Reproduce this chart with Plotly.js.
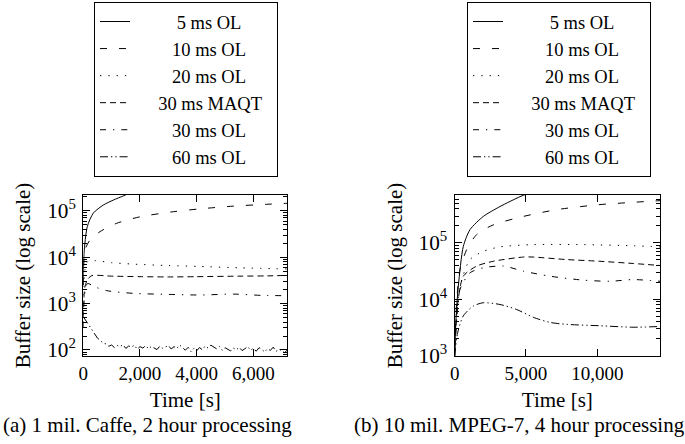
<!DOCTYPE html>
<html><head><meta charset="utf-8">
<script src="https://cdn.plot.ly/plotly-3.0.1.min.js"></script>
<style>html,body{margin:0;padding:0;background:#fff}</style>
</head><body><div id="chart" style="width:685px;height:444px"></div>
<script>
// ---------- Series names ----------
const seriesNames = ['5 ms OL', '10 ms OL', '20 ms OL', '30 ms MAQT', '30 ms OL', '60 ms OL'];
const legendPad = [9, 8, 8, 5, 8, 8];
const legendTrail = [0, 0, 0, 2, 0, 0];

// ---------- (a) 1 mil. Caffe, 2 hour processing ----------
const a_t5 = [0, 25, 141, 353, 706, 1059, 1412, 1600];
const a_v5 = [2500, 12000, 45700, 89000, 133000, 170000, 209000, 235000];
const a_t10 = [0, 60, 236, 589, 1177, 2000, 3177, 4118, 5294, 6471, 7200];
const a_v10 = [2500, 14300, 23400, 35500, 53700, 74100, 95500, 110000, 126000, 138000, 145000];
const a_t20 = [0, 60, 150, 412, 1000, 1765, 3000, 4118, 5500, 7200];
const a_v20 = [1500, 5500, 8000, 8400, 7600, 7080, 6600, 6300, 5900, 5560];
const a_t30m = [0, 50, 150, 300, 1000, 2000, 3000, 4000, 5500, 6500, 7200];
const a_v30m = [500, 2200, 3300, 4000, 3900, 3800, 3750, 3800, 3900, 3950, 4050];
const a_t30 = [0, 40, 150, 400, 825, 1765, 2941, 4118, 5294, 6300, 7200];
const a_v30 = [300, 1500, 2700, 2300, 1900, 1660, 1580, 1530, 1600, 1500, 1480];
const a_t60 = [0,100,200,300,400,500,600,700,800,900,1000,1100,1200,1300,1400,1500,1600,1700,1800,1900,
  2000,2100,2200,2300,2400,2500,2600,2700,2800,2900,3000,3100,3200,3300,3400,3500,3600,3700,3800,3900,
  4000,4100,4200,4300,4400,4500,4600,4700,4800,4900,5000,5100,5200,5300,5400,5500,5600,5700,5800,5900,
  6000,6100,6200,6300,6400,6500,6600,6700,6800,6900,7000,7100,7200];
const a_v60 = [520,420,330,270,215,180,160,140,135,120,128,112,125,118,130,108,122,115,127,104,
  118,110,124,106,119,112,102,121,109,116,125,105,118,108,128,112,99,114,92,108,
  96,113,101,122,110,127,115,106,119,98,112,104,95,109,101,114,97,106,118,99,
  108,94,112,102,91,106,98,115,93,104,97,88,100];

// ---------- (b) 10 mil. MPEG-7, 4 hour processing ----------
const b_t5 = [0, 100, 254, 605, 1073, 2007, 3177, 4579, 5200];
const b_v5 = [1260, 5000, 17200, 87100, 172000, 295000, 442000, 661000, 760000];
const b_t10 = [0, 150, 372, 840, 1543, 2707, 4811, 7150, 9958, 12525, 14400];
const b_v10 = [1260, 10000, 33900, 75900, 141000, 209000, 295000, 389000, 473000, 525000, 562000];
const b_t20 = [0, 200, 500, 1073, 2007, 3177, 5512, 9022, 12525, 14400];
const b_v20 = [1000, 7900, 22400, 50700, 70800, 85100, 93300, 93300, 89100, 85100];
const b_t30m = [0, 200, 605, 1543, 2707, 4811, 5512, 7854, 10189, 12525, 14400];
const b_v30m = [1000, 7900, 25700, 38900, 47300, 56200, 56200, 50700, 47300, 43200, 39800];
const b_t30 = [0, 150, 372, 1073, 2007, 3410, 4811, 6683, 9022, 10890, 12525, 14400];
const b_v30 = [1000, 5000, 15100, 29500, 36300, 38900, 31600, 25700, 21900, 20900, 22400, 20900];
const b_t60 = [0, 200, 605, 1307, 2007, 3177, 4345, 5512, 6683, 7854, 10189, 12525, 14400];
const b_v60 = [1000, 2500, 5100, 7600, 8700, 8100, 6600, 4800, 3900, 3600, 3400, 3200, 3300];

// ---------- Axis ticks ----------
const a_xticks = [0, 2000, 4000, 6000];
const b_xticks = [0, 5000, 10000];

const dashes = ['solid', '7px,12px', '1.3px,7px', '6px,4px', '6px,7px,1.3px,7px', '8px,3px,1.3px,3px,1.3px,3px'];
const NB = '\u00A0';
function label(i) { return NB.repeat(legendPad[i]) + seriesNames[i] + NB.repeat(legendTrail[i]); }

const aData = [[a_t5,a_v5],[a_t10,a_v10],[a_t20,a_v20],[a_t30m,a_v30m],[a_t30,a_v30],[a_t60,a_v60]];
const bData = [[b_t5,b_v5],[b_t10,b_v10],[b_t20,b_v20],[b_t30m,b_v30m],[b_t30,b_v30],[b_t60,b_v60]];

const traces = [];
aData.forEach((d, i) => traces.push({
  x: d[0], y: d[1], xaxis: 'x', yaxis: 'y', type: 'scatter', mode: 'lines',
  name: label(i), legend: 'legend',
  line: {color: '#000', width: 1, dash: dashes[i], shape: i === 5 ? 'linear' : 'spline', smoothing: 0.7}
}));
bData.forEach((d, i) => traces.push({
  x: d[0], y: d[1], xaxis: 'x2', yaxis: 'y2', type: 'scatter', mode: 'lines',
  name: label(i), legend: 'legend2',
  line: {color: '#000', width: 1, dash: dashes[i], shape: 'spline', smoothing: 0.7}
}));

const FONT = 'Liberation Serif, Times New Roman, serif';
const W = 685, H = 444;
const px = v => v / W, py = v => (H - v) / H;

function xAxis(range, ticks, domain, yref) {
  return {
    domain: domain, range: range, anchor: yref,
    tickvals: ticks, tickformat: ',d',
    ticks: 'inside', ticklen: 7, tickcolor: '#000', tickwidth: 1,
    showline: true, linecolor: '#000', linewidth: 1, mirror: 'ticks',
    showgrid: false, zeroline: false,
    tickfont: {family: FONT, size: 19, color: '#000'},
    title: {text: 'Time [s]', font: {family: FONT, size: 21, color: '#000'}, standoff: 9}
  };
}
function yAxis(range, domain, xref) {
  return {
    domain: domain, range: range, type: 'log', anchor: xref,
    dtick: 1, exponentformat: 'power',
    ticks: 'inside', ticklen: 7, tickcolor: '#000', tickwidth: 1,
    minor: {ticks: 'inside', ticklen: 4, dtick: 'D1', tickcolor: '#000', tickwidth: 1, showgrid: false},
    showline: true, linecolor: '#000', linewidth: 1, mirror: 'ticks',
    showgrid: false, zeroline: false, ticklabelstandoff: 3,
    tickfont: {family: FONT, size: 17, color: '#000'},
    title: {text: 'Buffer size (log scale)', font: {family: FONT, size: 21, color: '#000'}, standoff: 10}
  };
}

const yDom = [py(356), py(195)];
const legendBase = {
  xanchor: 'left', yanchor: 'top',
  bgcolor: '#fff', bordercolor: '#000', borderwidth: 1,
  font: {family: FONT, size: 18.5, color: '#000'}
};
const layout = {
  width: W, height: H,
  margin: {l: 0, r: 0, t: 0, b: 0},
  paper_bgcolor: '#fff', plot_bgcolor: '#fff',
  font: {family: FONT, color: '#000'},
  xaxis: xAxis([0, 7200], a_xticks, [px(83.3), px(287.4)], 'y'),
  yaxis: yAxis([1.87, 5.34], yDom, 'x'),
  xaxis2: xAxis([0, 14400], b_xticks, [px(454.7), px(660)], 'y2'),
  yaxis2: yAxis([2.995, 5.85], yDom, 'x2'),
  legend: Object.assign({x: px(94), y: py(2)}, legendBase),
  legend2: Object.assign({x: px(467), y: py(2)}, legendBase),
  annotations: [
    {text: '(a) 1 mil. Caffe, 2 hour processing', xref: 'paper', yref: 'paper',
     x: px(147), y: py(425), xanchor: 'center', yanchor: 'middle', showarrow: false,
     font: {family: FONT, size: 21, color: '#000'}},
    {text: '(b) 10 mil. MPEG-7, 4 hour processing', xref: 'paper', yref: 'paper',
     x: px(519), y: py(425), xanchor: 'center', yanchor: 'middle', showarrow: false,
     font: {family: FONT, size: 21, color: '#000'}}
  ]
};

Plotly.newPlot('chart', traces, layout, {displayModeBar: false, staticPlot: true});
</script></body></html>
